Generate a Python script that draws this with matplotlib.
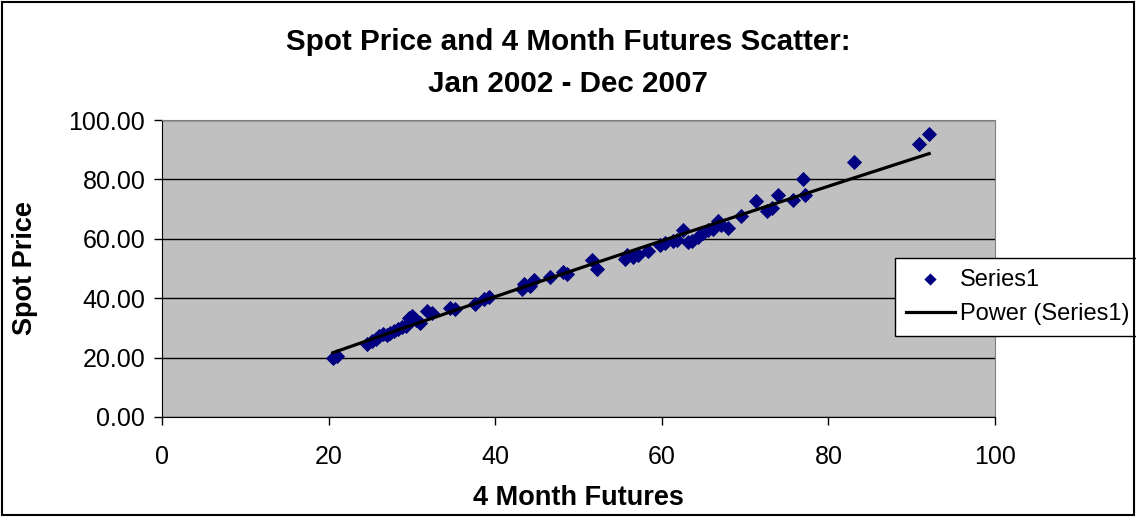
import numpy as np
import matplotlib.pyplot as plt
from matplotlib.patches import Rectangle

plt.rcParams['font.family'] = ['Liberation Sans', 'DejaVu Sans']

# 4 month futures (x) and spot price (y)
futures = [20.5, 21.0, 24.6, 25.2, 25.7, 26.1, 26.5, 27.0, 27.4, 27.9,
           28.3, 28.8, 29.3, 29.6, 30.0, 30.5, 31.0, 31.8, 32.4, 34.6,
           35.2, 37.6, 38.6, 39.3, 43.2, 43.5, 44.2, 44.7, 46.6, 48.1,
           48.6, 51.6, 52.2, 55.6, 55.8, 56.6, 57.2, 58.4, 59.8, 60.4,
           61.3, 61.8, 62.5, 63.2, 63.6, 64.3, 65.0, 65.5, 66.1, 66.7,
           67.1, 68.0, 69.5, 71.3, 72.6, 73.2, 73.9, 75.7, 76.9, 77.2,
           83.1, 90.9, 92.1]
spot = [20.0, 20.6, 24.5, 25.6, 26.3, 27.2, 27.8, 27.5, 28.4, 28.9,
        29.6, 30.2, 30.8, 33.2, 34.0, 32.6, 31.8, 35.6, 35.0, 36.8,
        36.5, 38.0, 39.8, 40.4, 43.2, 44.9, 44.0, 46.0, 47.0, 48.8,
        48.0, 53.0, 50.0, 53.2, 54.6, 54.0, 54.6, 55.8, 58.0, 58.6,
        59.2, 59.6, 63.0, 58.8, 59.4, 60.6, 61.8, 62.8, 63.2, 66.0,
        64.6, 63.8, 67.6, 72.6, 69.4, 70.4, 74.6, 73.2, 80.2, 74.6,
        85.8, 92.0, 95.2]

x_ticks = [0, 20, 40, 60, 80, 100]
y_ticks = [0, 20, 40, 60, 80, 100]

# power trend line y = a * x^b
b, log_a = np.polyfit(np.log(futures), np.log(spot), 1)
xs = np.sort(np.array(futures))
ys = np.exp(log_a) * xs ** b

fig = plt.figure(figsize=(11.36, 5.17), dpi=100)
ax = fig.add_axes([162 / 1136, 1 - 417 / 517, (995 - 162) / 1136, (417 - 120) / 517])
ax.set_facecolor('#C0C0C0')

ax.scatter(futures, spot, marker='D', s=60, color='#000080', linewidths=0,
           zorder=3, label='Series1')
ax.plot(xs, ys, color='black', lw=2.3, zorder=4, label='Power (Series1)')

ax.set_xlim(0, 100)
ax.set_ylim(0, 100)
ax.set_xticks(x_ticks)
ax.set_yticks(y_ticks)
ax.set_yticklabels([f'{v:.2f}' for v in y_ticks])
ax.yaxis.grid(True, color='black', lw=1)
ax.set_axisbelow(True)
ax.tick_params(labelsize=18, length=6, width=1, color='black', direction='out')
ax.tick_params(axis='x', pad=14)
ax.tick_params(axis='y', pad=6)

for side in ['top', 'right']:
    ax.spines[side].set_color('#808080')
for side in ['left', 'bottom']:
    ax.spines[side].set_color('black')

ax.set_xlabel('4 Month Futures', fontsize=19.5, fontweight='bold', labelpad=12)
ax.set_ylabel('Spot Price', fontsize=19.5, fontweight='bold', labelpad=22)

fig.text(0.5, 1 - 63 / 517, 'Spot Price and 4 Month Futures Scatter:\nJan 2002 - Dec 2007',
         ha='center', va='center', fontsize=21.3, fontweight='bold', linespacing=1.65)

leg = ax.legend(loc='center left', bbox_to_anchor=(895 / 1136, 1 - 297 / 517),
                bbox_transform=fig.transFigure, fontsize=17, frameon=True,
                fancybox=False, edgecolor='black', framealpha=1,
                handlelength=2.1, handletextpad=0.2, borderpad=0.45,
                labelspacing=0.55, borderaxespad=0, markerscale=0.8)
leg.get_frame().set_linewidth(1)

fig.patches.append(Rectangle((0.002, 0.003), 0.996, 0.994, transform=fig.transFigure,
                             fill=False, edgecolor='black', lw=1.5))

fig.savefig('out.png', dpi=100)
